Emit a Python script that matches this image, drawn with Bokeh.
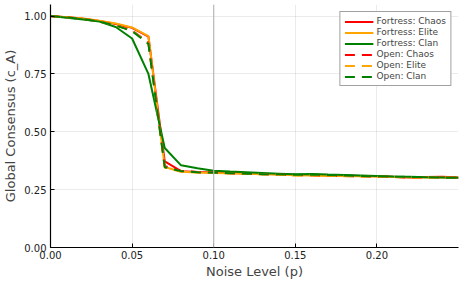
from bokeh.plotting import figure
from bokeh.models import Range1d, FixedTicker, Legend, LegendItem, Span, NumeralTickFormatter
from bokeh.embed import file_html
from bokeh.resources import INLINE

noise = [0.00, 0.01, 0.02, 0.03, 0.04, 0.05, 0.06, 0.07, 0.08, 0.09, 0.10, 0.11, 0.12,
         0.13, 0.14, 0.15, 0.16, 0.17, 0.18, 0.19, 0.20, 0.21, 0.22, 0.23, 0.24, 0.25]

fortress_chaos = [1.000, 0.995, 0.989, 0.979, 0.966, 0.949, 0.911, 0.372, 0.330, 0.326, 0.324, 0.322, 0.320,
                  0.318, 0.316, 0.314, 0.313, 0.312, 0.311, 0.309, 0.308, 0.306, 0.303, 0.305, 0.306, 0.302]
fortress_elite = [1.000, 0.995, 0.990, 0.980, 0.968, 0.951, 0.913, 0.348, 0.327, 0.324, 0.322, 0.321, 0.319,
                  0.317, 0.315, 0.312, 0.311, 0.309, 0.309, 0.308, 0.307, 0.305, 0.304, 0.302, 0.303, 0.301]
fortress_clan = [1.000, 0.993, 0.985, 0.976, 0.953, 0.903, 0.750, 0.430, 0.355, 0.342, 0.332, 0.328, 0.325,
                 0.322, 0.319, 0.316, 0.318, 0.315, 0.313, 0.311, 0.309, 0.307, 0.306, 0.304, 0.303, 0.301]
open_chaos = [1.000, 0.994, 0.988, 0.977, 0.961, 0.938, 0.885, 0.352, 0.331, 0.326, 0.323, 0.321, 0.318,
              0.317, 0.315, 0.313, 0.312, 0.310, 0.309, 0.308, 0.306, 0.305, 0.302, 0.303, 0.304, 0.301]
open_elite = [1.000, 0.994, 0.988, 0.977, 0.960, 0.936, 0.882, 0.346, 0.328, 0.324, 0.322, 0.320, 0.318,
              0.316, 0.314, 0.311, 0.312, 0.310, 0.308, 0.307, 0.306, 0.305, 0.303, 0.302, 0.303, 0.301]
open_clan = [1.000, 0.994, 0.987, 0.976, 0.959, 0.935, 0.880, 0.347, 0.330, 0.325, 0.323, 0.321, 0.319,
             0.317, 0.316, 0.314, 0.315, 0.313, 0.311, 0.309, 0.308, 0.306, 0.305, 0.304, 0.302, 0.301]

series = [
    ("Fortress: Chaos", fortress_chaos, "#ff0000", "solid"),
    ("Fortress: Elite", fortress_elite, "#ffa500", "solid"),
    ("Fortress: Clan", fortress_clan, "#008000", "solid"),
    ("Open: Chaos", open_chaos, "#ff0000", "10 7"),
    ("Open: Elite", open_elite, "#ffa500", "10 7"),
    ("Open: Clan", open_clan, "#008000", "10 7"),
]

x_ticks = [0.00, 0.05, 0.10, 0.15, 0.20]
y_ticks = [0.00, 0.25, 0.50, 0.75, 1.00]

FONT = "DejaVu Sans"

p = figure(width=460, height=281, output_backend="svg", toolbar_location=None,
           x_range=Range1d(0, 0.25), y_range=Range1d(0, 1.05),
           min_border_left=0, min_border_right=2, min_border_top=4, min_border_bottom=0)
p.outline_line_color = None

p.xaxis.ticker = FixedTicker(ticks=x_ticks)
p.yaxis.ticker = FixedTicker(ticks=y_ticks)
p.xaxis.formatter = NumeralTickFormatter(format="0.00")
p.yaxis.formatter = NumeralTickFormatter(format="0.00")
p.xaxis.axis_label = "Noise Level (p)"
p.yaxis.axis_label = "Global Consensus (c_A)"
for ax in (p.xaxis, p.yaxis):
    ax.axis_label_text_font = FONT
    ax.axis_label_text_font_style = "normal"
    ax.axis_label_text_font_size = "13px"
    ax.major_label_text_font = FONT
    ax.major_label_text_font_size = "10px"
    ax.major_label_text_color = "#222222"
    ax.axis_line_color = "#000000"
    ax.axis_line_width = 1.2
    ax.major_tick_in = 4
    ax.major_tick_out = 0
    ax.major_tick_line_color = "#000000"
    ax.minor_tick_line_color = None
p.xaxis.axis_label_standoff = 2
p.xaxis.major_label_standoff = 3
p.yaxis.axis_label_standoff = 3
p.yaxis.major_label_standoff = 4

p.xgrid.ticker = FixedTicker(ticks=x_ticks)
p.ygrid.ticker = FixedTicker(ticks=y_ticks)
p.grid.grid_line_color = "#000000"
p.grid.grid_line_alpha = 0.08

vline = Span(location=0.10, dimension="height", line_color="#b8b8b8", line_width=1.2)
p.add_layout(vline)

items = []
for name, vals, color, dash in series:
    r = p.line(noise, vals, line_color=color, line_width=2, line_dash=dash)
    items.append(LegendItem(label=name, renderers=[r]))

legend = Legend(items=items, location="top_right")
legend.label_text_font = FONT
legend.label_text_font_size = "9px"
legend.label_height = 9
legend.glyph_height = 9
legend.glyph_width = 29
legend.spacing = 1
legend.padding = 4
legend.margin = 7
legend.border_line_color = "#444444"
legend.border_line_width = 1
legend.label_standoff = 3
legend.background_fill_alpha = 1.0
p.add_layout(legend)

open("out.html", "w").write(file_html(p, INLINE))
